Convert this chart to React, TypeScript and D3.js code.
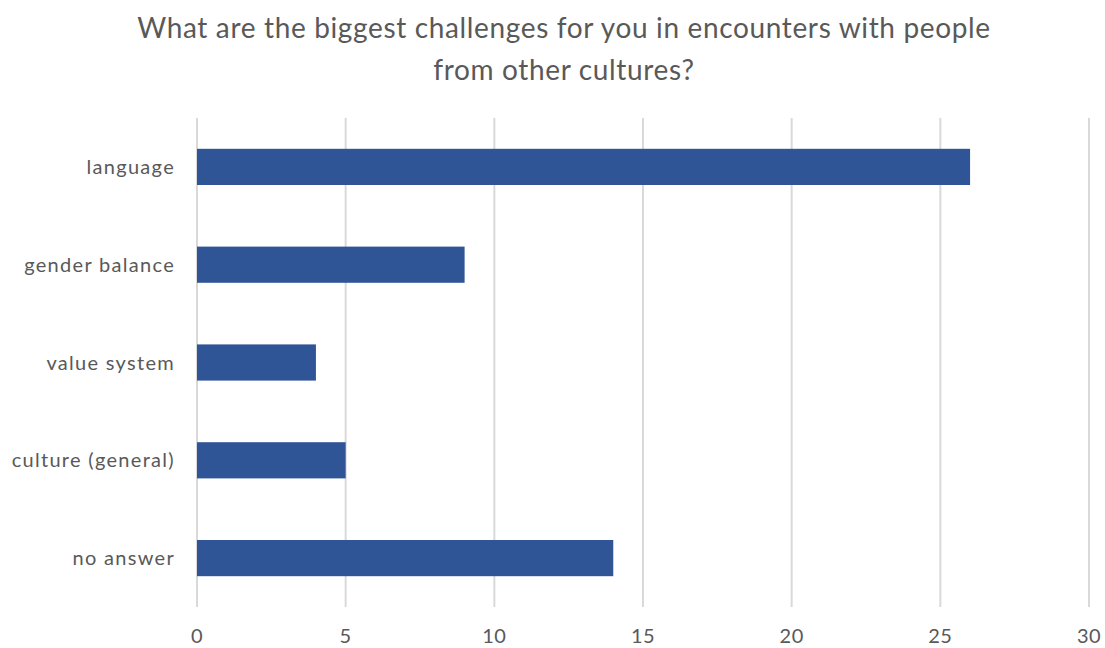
import React from "react";
import * as d3 from "d3";

const categories = ["language", "gender balance", "value system", "culture (general)", "no answer"];
const values = [26, 9, 4, 5, 14];
const xTicks = [0, 5, 10, 15, 20, 25, 30];
const titleLines = ["What are the biggest challenges for you in encounters with people", "from other cultures?"];

export default function App() {
  const W = 1105, H = 648;
  const left = 197, right = 1089, top = 118, bottom = 607;
  const x = d3.scaleLinear().domain([0, 30]).range([left, right]);
  const y = d3.scaleBand<string>().domain(categories).range([top, bottom]).paddingInner(0.63).paddingOuter(0.315);
  const font = "Lato, 'Open Sans', sans-serif";
  const textColor = "#595959";
  return (
    <svg width={W} height={H} style={{ position: "absolute", left: 0, top: 0, background: "#fff" }}>
      {titleLines.map((t, i) => (
        <text key={i} x={564} y={38 + i * 42} textAnchor="middle" fontFamily={font} fontSize={28} letterSpacing={0.65} fill={textColor}>{t}</text>
      ))}
      {xTicks.map((t) => (
        <g key={t}>
          <line x1={x(t)} x2={x(t)} y1={top} y2={bottom} stroke="#d9d9d9" strokeWidth={2} />
          <text x={x(t)} y={643} textAnchor="middle" fontFamily={font} fontSize={20} letterSpacing={0.5} fill={textColor}>{t}</text>
        </g>
      ))}
      {categories.map((c, i) => (
        <g key={c}>
          <rect x={x(0)} y={y(c)!} width={x(values[i]) - x(0)} height={y.bandwidth()} fill="#2F5597" />
          <text x={175} y={y(c)! + y.bandwidth() / 2} dy="0.35em" textAnchor="end" fontFamily={font} fontSize={20} letterSpacing={1.3} fill={textColor}>{c}</text>
        </g>
      ))}
    </svg>
  );
}
